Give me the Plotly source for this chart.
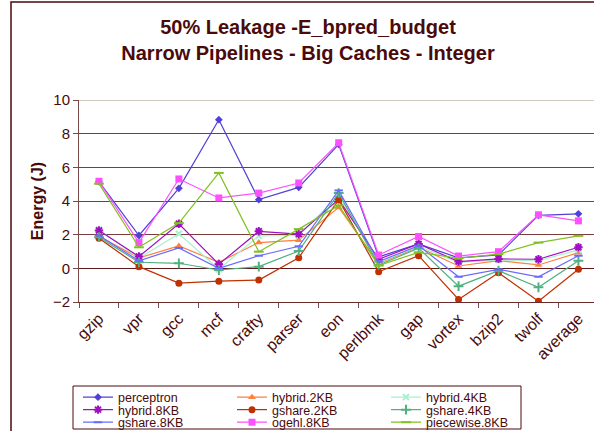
import plotly.graph_objects as go

# benchmarks on the x axis
benchmarks = ['gzip', 'vpr', 'gcc', 'mcf', 'crafty', 'parser', 'eon',
              'perlbmk', 'gap', 'vortex', 'bzip2', 'twolf', 'average']

# energy (J) per predictor
perceptron = [5.15, 1.95, 4.75, 8.83, 4.08, 4.81, 7.36, 0.68, 1.45, 0.62, 0.8, 3.15, 3.24]
hybrid_2KB = [1.9, 0.62, 1.33, 0.36, 1.53, 1.67, 3.62, 0.3, 1.25, 0.14, 0.46, 0.2, 0.93]
hybrid_4KB = [2.3, 0.6, 2.05, -0.05, 1.93, 1.95, 4.35, 0.35, 1.3, 0.35, 0.5, 0.45, 1.1]
hybrid_8KB = [2.25, 0.7, 2.65, 0.24, 2.2, 2.03, 4.1, 0.54, 1.45, 0.4, 0.56, 0.54, 1.25]
gshare_2KB = [1.79, 0.1, -0.88, -0.76, -0.7, 0.63, 4.08, -0.2, 0.75, -1.85, -0.26, -1.95, -0.06]
gshare_4KB = [1.85, 0.36, 0.3, -0.1, 0.1, 1.03, 4.47, 0.2, 1.2, -1.06, -0.14, -1.13, 0.45]
gshare_8KB = [1.95, 0.45, 1.21, 0.0, 0.75, 1.31, 4.63, 0.4, 1.35, -0.5, -0.06, -0.5, 0.75]
ogehl_8KB = [5.17, 1.53, 5.31, 4.18, 4.47, 5.07, 7.46, 0.79, 1.89, 0.73, 0.99, 3.18, 2.82]
piecewise_8KB = [5.03, 1.25, 2.69, 5.67, 0.99, 2.33, 3.74, 0.16, 0.95, 0.6, 0.84, 1.53, 1.93]

series = [
    ('perceptron', perceptron, '#5040D8', 'diamond', 6, 'legend'),
    ('hybrid.2KB', hybrid_2KB, '#FF8040', 'triangle-up', 7, 'legend'),
    ('hybrid.4KB', hybrid_4KB, '#A8F0CC', 'x-thin-open', 6, 'legend'),
    ('hybrid.8KB', hybrid_8KB, '#A010C0', 'asterisk-open', 7, 'legend2'),
    ('gshare.2KB', gshare_2KB, '#C03000', 'circle', 7, 'legend2'),
    ('gshare.4KB', gshare_4KB, '#50B080', 'cross-thin-open', 7, 'legend2'),
    ('gshare.8KB', gshare_8KB, '#6A6AFF', 'line-ew-open', 6, 'legend3'),
    ('ogehl.8KB', ogehl_8KB, '#FF50FF', 'square', 7, 'legend3'),
    ('piecewise.8KB', piecewise_8KB, '#80C020', 'line-ew-open', 7, 'legend3'),
]

maroon = '#4A0A0A'
W, H = 594, 431

fig = go.Figure()
for name, vals, col, sym, sz, lg in series:
    fig.add_trace(go.Scatter(
        x=benchmarks, y=vals, name=name, mode='lines+markers',
        line=dict(color=col, width=1.2),
        marker=dict(symbol=sym, size=sz, color=col, line=dict(color=col, width=2 if 'open' in sym else 0)),
        legend=lg,
    ))

def px_x(p):
    return (p - 79) / (W - 79)

def px_y(p):
    return (302 - p) / 202

leg = dict(orientation='h', xref='container', yref='container', xanchor='left', yanchor='middle',
           bgcolor='rgba(0,0,0,0)', borderwidth=0, entrywidth=109, entrywidthmode='pixels',
           itemwidth=30, font=dict(family='Arial', size=12.5, color=maroon), tracegroupgap=0)

fig.update_layout(
    width=W, height=H,
    margin=dict(l=79, r=0, t=100, b=129),
    paper_bgcolor='white', plot_bgcolor='white',
    font=dict(family='Arial', color=maroon),
    title=dict(text='<b>50% Leakage -E_bpred_budget<br>Narrow Pipelines - Big Caches - Integer</b>',
               x=308 / W, xanchor='center', xref='container', yref='container',
               y=1 - 33.5 / H, yanchor='middle', font=dict(size=20, color=maroon)),
    xaxis=dict(range=[-0.5, 12.39], tickson='boundaries', ticks='outside', ticklen=5,
               tickcolor='#7a4a4a', showgrid=False, showline=True, linecolor='#6a2a2a',
               tickangle=-45, tickfont=dict(size=16, color=maroon)),
    yaxis=dict(range=[-2, 10], dtick=2, ticks='outside', ticklen=5, tickcolor='#7a4a4a',
               showline=True, linecolor='#7a4a4a', gridcolor='#7b3c3c', gridwidth=1,
               zeroline=True, zerolinecolor='#5a1a1a', zerolinewidth=1,
               tickfont=dict(size=15, color=maroon),
               title=dict(text='<b>Energy (J)</b>', font=dict(size=16, color=maroon), standoff=5)),
    legend=dict(leg, x=78 / W, y=1 - 397.5 / H),
    legend2=dict(leg, x=78 / W, y=1 - 410 / H),
    legend3=dict(leg, x=78 / W, y=1 - 422.5 / H),
    shapes=[
        # top gridline is lighter in the original
        dict(type='line', xref='paper', yref='y', x0=0, x1=1, y0=10, y1=10,
             line=dict(color='#A89880', width=1)),
        # legend frame
        dict(type='rect', xref='paper', yref='paper', x0=px_x(73), x1=px_x(521),
             y0=px_y(429), y1=px_y(386), line=dict(color=maroon, width=1)),
        # outer chart frame
        dict(type='rect', xref='paper', yref='paper', x0=px_x(11), x1=px_x(620),
             y0=px_y(460), y1=px_y(2), line=dict(color=maroon, width=1.5)),
    ],
)

# the page body has a default 8px margin; drop it so the figure sits at the window's corner
fig.write_html('out.html', config={'displayModeBar': False},
               post_script="document.body.style.margin='0';")
